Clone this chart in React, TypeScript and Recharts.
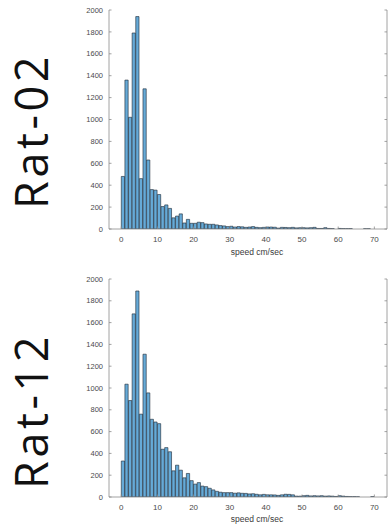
import React from 'react';
import { BarChart, Bar, XAxis, YAxis } from 'recharts';

// Histogram bin counts (bin width 1 cm/sec, bins start at 0)
const rat02Counts = [
  480, 1360, 1020, 1790, 1940, 460, 1280, 630, 360, 355,
  315, 205, 220, 188, 102, 118, 138, 55, 88, 52,
  52, 62, 58, 46, 43, 43, 37, 31, 28, 22,
  25, 18, 22, 20, 15, 18, 22, 15, 12, 15,
  18, 18, 16, 8, 15, 14, 12, 15, 10, 12,
  12, 10, 12, 15, 5, 5, 12, 5, 3, 0,
  5, 3, 3, 3, 0, 0, 0, 2, 2, 0,
];
const rat12Counts = [
  330, 1035, 885, 1680, 1890, 760, 1310, 955, 713, 688,
  673, 438, 453, 415, 240, 292, 246, 176, 216, 150,
  118, 132, 100, 95, 80, 65, 52, 44, 40, 40,
  40, 35, 38, 34, 33, 28, 30, 25, 20, 24,
  20, 20, 19, 15, 20, 25, 24, 20, 8, 8,
  12, 15, 10, 12, 10, 12, 8, 10, 8, 5,
  12, 8, 5, 3, 3, 2, 0, 0, 0, 3,
];
const xTicks = [0, 10, 20, 30, 40, 50, 60, 70];
const yTicks = [0, 200, 400, 600, 800, 1000, 1200, 1400, 1600, 1800, 2000];
const panelLabels = ['Rat-02', 'Rat-12'];
const xLabel = 'speed cm/sec';

const X_MIN = -3.4;
const X_MAX = 73.5;
const Y_MAX = 2000;

const W = 389;
const LEFT = 109;
const RIGHT_W = 2;
const PLOT_W = W - LEFT - RIGHT_W;
const BAR_SIZE = PLOT_W / (X_MAX - X_MIN);

const AXIS_COLOR = '#8a8a8a';
const TICK_COLOR = '#4a4a4a';
const FONT = '"Liberation Sans", Arial, sans-serif';
const BAR_FILL = '#66aad7';
const BAR_STROKE = '#1c2633';
const TL = 2.5;

const toData = (counts: number[]) => counts.map((c, i) => ({ x: i + 0.5, count: c }));

const BottomTick = (props: any) => {
  const { x, y, payload } = props;
  const axisY = y - 7;
  return (
    <g>
      <line x1={x} x2={x} y1={axisY} y2={axisY - TL} stroke={AXIS_COLOR} strokeWidth={0.8} />
      <text x={x} y={y} dy="0.71em" textAnchor="middle" fontSize={8} fill={TICK_COLOR} fontFamily={FONT}>
        {payload.value}
      </text>
    </g>
  );
};

const LeftTick = (props: any) => {
  const { x, y, payload } = props;
  const axisX = x + 6;
  return (
    <g>
      <line x1={axisX} x2={axisX + TL} y1={y} y2={y} stroke={AXIS_COLOR} strokeWidth={0.8} />
      <text x={x} y={y} dy="0.355em" textAnchor="end" fontSize={7.5} fill={TICK_COLOR} fontFamily={FONT}>
        {payload.value}
      </text>
    </g>
  );
};

const TopTick = (props: any) => {
  const { x, y } = props;
  return <line x1={x} x2={x} y1={y} y2={y + TL} stroke={AXIS_COLOR} strokeWidth={0.8} />;
};

const RightTick = (props: any) => {
  const { x, y } = props;
  return <line x1={x} x2={x - TL} y1={y} y2={y} stroke={AXIS_COLOR} strokeWidth={0.8} />;
};

const Panel = ({ counts, top, height, marginTop, axisH }: { counts: number[]; top: number; height: number; marginTop: number; axisH: number }) => (
  <div style={{ position: 'absolute', left: 0, top }}>
    <BarChart
      width={W}
      height={height}
      data={toData(counts)}
      margin={{ top: marginTop, right: 0, left: 0, bottom: 0 }}
      barCategoryGap={0}
      barGap={0}
    >
      <XAxis
        xAxisId="b"
        dataKey="x"
        type="number"
        domain={[X_MIN, X_MAX]}
        allowDataOverflow
        ticks={xTicks}
        interval={0}
        height={axisH}
        tickSize={0}
        tickMargin={7}
        tickLine={false}
        axisLine={{ stroke: AXIS_COLOR, strokeWidth: 0.8 }}
        tick={<BottomTick />}
        label={{ value: xLabel, position: 'insideBottom', offset: 4, dx: 9, fontSize: 8.5, fill: '#3a3a3a', fontFamily: FONT }}
      />
      <XAxis
        xAxisId="t"
        dataKey="x"
        type="number"
        orientation="top"
        domain={[X_MIN, X_MAX]}
        allowDataOverflow
        ticks={xTicks}
        interval={0}
        height={0}
        tickSize={0}
        tickMargin={0}
        tickLine={false}
        axisLine={{ stroke: AXIS_COLOR, strokeWidth: 0.8 }}
        tick={<TopTick />}
      />
      <YAxis
        yAxisId="l"
        type="number"
        domain={[0, Y_MAX]}
        allowDataOverflow
        ticks={yTicks}
        interval={0}
        width={LEFT}
        tickSize={0}
        tickMargin={6}
        tickLine={false}
        axisLine={{ stroke: AXIS_COLOR, strokeWidth: 0.8 }}
        tick={<LeftTick />}
      />
      <YAxis
        yAxisId="r"
        type="number"
        orientation="right"
        domain={[0, Y_MAX]}
        allowDataOverflow
        ticks={yTicks}
        interval={0}
        width={RIGHT_W}
        tickSize={0}
        tickMargin={0}
        tickLine={false}
        axisLine={{ stroke: AXIS_COLOR, strokeWidth: 0.8 }}
        tick={<RightTick />}
      />
      <Bar
        xAxisId="b"
        yAxisId="l"
        dataKey="count"
        barSize={BAR_SIZE}
        fill={BAR_FILL}
        stroke={BAR_STROKE}
        strokeWidth={0.6}
        isAnimationActive={false}
      />
    </BarChart>
  </div>
);

const SideLabel = ({ text, cx, cy }: { text: string; cx: number; cy: number }) => (
  <svg width={70} height={230} style={{ position: 'absolute', left: cx - 35, top: cy - 115 }}>
    <text
      x={35}
      y={115}
      transform="rotate(-90 35 115)"
      textAnchor="middle"
      dominantBaseline="central"
      fontSize={45}
      letterSpacing={3.5}
      fill="#111"
      fontFamily='"Open Sans", "DejaVu Sans", sans-serif'
    >
      {text}
    </text>
  </svg>
);

export default function App() {
  return (
    <div style={{ position: 'absolute', left: 0, top: 0, width: W, height: 526, background: '#fff', overflow: 'hidden' }}>
      <Panel counts={rat02Counts} top={0} height={259} marginTop={10} axisH={30} />
      <Panel counts={rat12Counts} top={268} height={258} marginTop={11} axisH={29} />
      <SideLabel text={panelLabels[0]} cx={30} cy={131} />
      <SideLabel text={panelLabels[1]} cx={30} cy={411} />
    </div>
  );
}
